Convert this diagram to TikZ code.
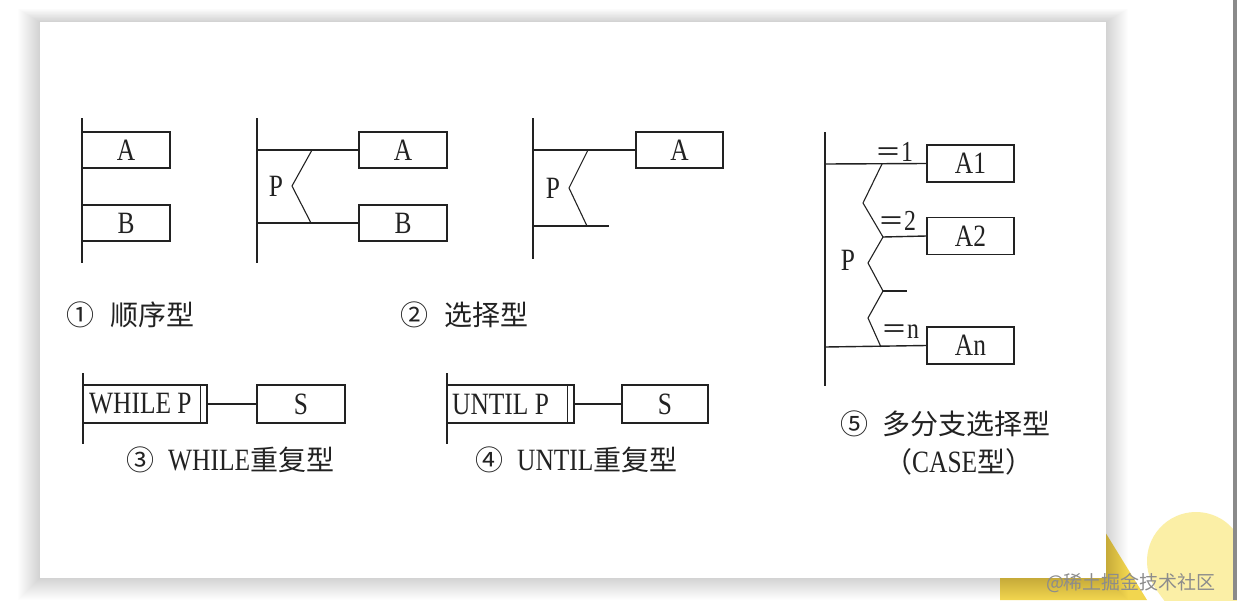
\documentclass[tikz,border=0pt]{standalone}
\usepackage{fontspec}
\setmainfont{Liberation Serif}
\newfontfamily\cjk{Noto Sans CJK SC}
\newfontfamily\nser[FakeStretch=0.82]{Liberation Serif}
\definecolor{ink}{HTML}{222222}
\definecolor{yA}{HTML}{F2D64F}
\definecolor{yB}{HTML}{FBEFA6}
\definecolor{bar}{HTML}{8A8A8A}
\begin{document}
\begin{tikzpicture}[x=1pt,y=-1pt,
  ln/.style={draw=ink,line width=1.4pt},
  bx/.style={draw=ink,line width=1.4pt,minimum width=88pt,minimum height=36pt,inner sep=0pt,text=ink,font=\nser\fontsize{31}{32}\selectfont},
  lab/.style={inner sep=0pt,text=ink,font=\nser\fontsize{31}{32}\selectfont},
  eqlab/.style={inner sep=0pt,anchor=west,text=ink,font=\nser\fontsize{29}{30}\selectfont},
  captxt/.style={inner sep=0pt,anchor=west,text=ink,font=\cjk\fontsize{28}{30}\selectfont},
  latc/.style={font=\nser\fontsize{31}{32}\selectfont},
]
\useasboundingbox (0,0) rectangle (1237,600);
\fill[white] (0,0) rectangle (1237,600);
% decorative yellow shapes
\fill[yA] (1000,600) -- (1000,480) -- (1073,480) -- (1147,600) -- cycle;
\begin{scope}
\clip (0,0) rectangle (1237,600);
\draw[yB,line width=98pt,line cap=round] (1196,561) -- (1290,690);
\end{scope}
% card shadow
\foreach \i in {1,...,22}{
  \fill[black,opacity=0.007] (40-\i,22-0.6*\i) rectangle (1106+\i,578+\i);
}
\fill[white] (40,22) rectangle (1106,578);
\fill[bar] (1233,0) rectangle (1237,600);
\node[inner sep=0pt,text=black!45,font=\cjk\fontsize{19}{20}\selectfont] (wm) at (1131,583) {@稀土掘金技术社区};

% ---- 1 sequence
\coordinate (d1t) at (82,118); \coordinate (d1b) at (82,263);
\draw[ln] (d1t) -- (d1b);
\node[bx] (a1) at (126,150) {A};
\node[bx] (b1) at (126,223) {B};
\node[captxt] (cap1) at (66,315) {①\hspace{16pt}顺序型};

% ---- 2 selection
\coordinate (d2t) at (257,118); \coordinate (d2b) at (257,263);
\draw[ln] (d2t) -- (d2b);
\node[bx] (a2) at (403,150) {A};
\node[bx] (b2) at (403,223) {B};
\coordinate (d2u) at (257,150); \coordinate (d2l) at (257,223);
\draw[ln] (d2u) -- (a2.west);
\draw[ln] (d2l) -- (b2.west);
\coordinate (z2a) at (312,150); \coordinate (z2m) at (292,186); \coordinate (z2b) at (311,223);
\draw[ln,line width=1.1pt] (z2a) -- (z2m) -- (z2b);
\node[lab] (p2) at (276,186) {P};
\node[captxt] (cap2) at (400,315) {②\hspace{16pt}选择型};

% ---- 2b single branch
\coordinate (d3t) at (533,118); \coordinate (d3b) at (533,259);
\draw[ln] (d3t) -- (d3b);
\node[bx,minimum width=87pt] (a3) at (679.5,150) {A};
\coordinate (d3u) at (533,150); \coordinate (d3l) at (533,226); \coordinate (d3e) at (609,226);
\draw[ln] (d3u) -- (a3.west);
\draw[ln] (d3l) -- (d3e);
\coordinate (z3a) at (588,150); \coordinate (z3m) at (569,188); \coordinate (z3b) at (587,226);
\draw[ln,line width=1.1pt] (z3a) -- (z3m) -- (z3b);
\node[lab] (p3) at (553,188) {P};

% ---- 3 WHILE
\coordinate (d4t) at (83,373); \coordinate (d4b) at (83,444);
\draw[ln] (d4t) -- (d4b);
\node[bx,minimum width=124pt,minimum height=38pt] (wh) at (145,404) {};
\draw[ln] ([xshift=-7pt]wh.north east) -- ([xshift=-7pt]wh.south east);
\node[lab,anchor=west] (whl) at (89,404) {WHILE P};
\node[bx,minimum height=38pt] (ws) at (301,404) {S};
\draw[ln] (wh.east) -- (ws.west);
\node[captxt] (cap3) at (126,460) {③\hspace{14pt}{\nser\fontsize{31}{32}\selectfont WHILE}重复型};

% ---- 4 UNTIL
\coordinate (d5t) at (447,373); \coordinate (d5b) at (447,444);
\draw[ln] (d5t) -- (d5b);
\node[bx,minimum width=127pt,minimum height=38pt] (un) at (510.5,404) {};
\draw[ln] ([xshift=-7pt]un.north east) -- ([xshift=-7pt]un.south east);
\node[lab,anchor=west] (unl) at (452,404) {UNTIL P};
\node[bx,minimum width=86pt,minimum height=38pt] (us) at (665,404) {S};
\draw[ln] (un.east) -- (us.west);
\node[captxt] (cap4) at (475,460) {④\hspace{14pt}{\nser\fontsize{31}{32}\selectfont UNTIL}重复型};

% ---- 5 CASE
\coordinate (d6t) at (825,132); \coordinate (d6b) at (825,386);
\draw[ln] (d6t) -- (d6b);
\node[bx,minimum width=87pt,minimum height=37pt] (c1) at (970.5,163.5) {A1};
\node[bx,minimum width=87pt,minimum height=37pt] (c2) at (970.5,236) {A2};
\node[bx,minimum width=87pt,minimum height=37pt] (cn) at (970.5,345.5) {An};
\coordinate (e1) at (825,164); \coordinate (e2) at (883,237); \coordinate (en) at (825,347);
\draw[ln] (e1) -- (c1.west);
\draw[ln] (e2) -- (c2.west);
\draw[ln] (en) -- (cn.west);
\coordinate (q1) at (882,164); \coordinate (q2) at (863,203); \coordinate (q3) at (883,237);
\coordinate (q4) at (868,263); \coordinate (q5) at (883,291); \coordinate (q6) at (868,318);
\coordinate (q7) at (881,347); \coordinate (q8) at (907,291);
\draw[ln,line width=1.1pt] (q1) -- (q2) -- (q3) -- (q4) -- (q5) -- (q6) -- (q7);
\draw[ln] (q5) -- (q8);
\node[eqlab] (l1) at (875,152) {{\cjk\fontsize{26}{28}\selectfont ＝}1};
\node[eqlab] (l2) at (878,221) {{\cjk\fontsize{26}{28}\selectfont ＝}2};
\node[eqlab] (l3) at (881,332) {{\cjk\fontsize{26}{28}\selectfont ＝}n};
\node[lab] (p6) at (848,260) {P};
\node[captxt] (cap5) at (840,424) {⑤\hspace{14pt}多分支选择型};
\node[captxt] (cap6) at (884,462) {（{\nser\fontsize{31}{32}\selectfont CASE}型）};
\end{tikzpicture}
\end{document}
